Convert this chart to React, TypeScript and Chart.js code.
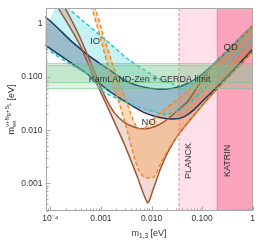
import React, { useEffect, useRef } from 'react';
import { Chart, registerables } from 'chart.js';
Chart.register(...registerables);

// ---------- axes ----------
const xRange = [8e-5, 1];
const yRange = [3e-4, 2];
const xTickValues = [1e-4, 1e-3, 1e-2, 1e-1, 1];
const xTickLabels = ['10⁻⁴', '0.001', '0.010', '0.100', '1'];
const yTickValues = [1e-3, 1e-2, 1e-1, 1];
const yTickLabels = ['0.001', '0.010', '0.100', '1'];

// ---------- bounds ----------
const planckBound = 0.035;
const katrinBound = 0.2;
const kamlandBand = [0.061, 0.165];
const gerdaBand = [0.079, 0.18];

// ---------- IO, dashed (cyan) ----------
const ioDashUpperM = [1.53e-4, 2.2e-4, 4.7e-4, 9.3e-4, 1.82e-3, 3.57e-3, 7.0e-3, 0.0138, 0.027, 0.0424, 0.0665, 0.104, 0.187, 0.32, 0.63, 1.13];
const ioDashUpperMee = [3.39, 2.05, 1.09, 0.63, 0.364, 0.211, 0.138, 0.0947, 0.0736, 0.0676, 0.0767, 0.107, 0.194, 0.32, 0.60, 1.04];
const ioDashLowerM = [6e-5, 8e-5, 2.4e-4, 5.9e-4, 1.06e-3, 3.27e-3, 8.8e-3, 0.0198, 0.034, 0.0665, 0.104, 0.187, 0.32, 0.63, 1.13];
const ioDashLowerMee = [0.40, 0.349, 0.178, 0.107, 0.0548, 0.033, 0.0236, 0.020, 0.0236, 0.0375, 0.0548, 0.107, 0.178, 0.335, 0.578];

// ---------- IO, solid (navy) ----------
const ioSolidUpperM = [6.25e-5, 8.55e-5, 1.40e-4, 2.4e-4, 5.9e-4, 1.45e-3, 3.27e-3, 7.0e-3, 0.0138, 0.027, 0.053, 0.104, 0.187, 0.32, 0.63, 1.13];
const ioSolidUpperMee = [1.59, 1.29, 0.845, 0.51, 0.249, 0.138, 0.0834, 0.0648, 0.0596, 0.0621, 0.0767, 0.117, 0.194, 0.32, 0.60, 1.04];
const ioSolidLowerM = [6.25e-5, 8.55e-5, 2.4e-4, 5.9e-4, 1.45e-3, 3.27e-3, 7.0e-3, 0.0138, 0.027, 0.0424, 0.0665, 0.104, 0.205, 0.50, 1.13];
const ioSolidLowerMee = [0.45, 0.38, 0.194, 0.107, 0.0548, 0.033, 0.0217, 0.0176, 0.0162, 0.0176, 0.0236, 0.036, 0.0676, 0.164, 0.38];

// ---------- NO, solid (brown) ----------
const noSolidUpperM = [1.53e-4, 1.92e-4, 3.8e-4, 7.4e-4, 1.16e-3, 1.82e-3, 2.86e-3, 4.48e-3, 7.0e-3, 0.011, 0.0173, 0.027, 0.053, 0.104, 0.187, 0.32, 1.13];
const noSolidUpperMee = [2.75, 2.05, 0.578, 0.127, 0.0463, 0.0217, 0.0142, 0.0115, 0.0106, 0.0115, 0.0142, 0.020, 0.036, 0.0947, 0.194, 0.32, 1.04];
const noSolidLowerM = [1.07e-4, 1.53e-4, 3.8e-4, 7.4e-4, 1.45e-3, 2.86e-3, 5.13e-3, 8.4e-3, 0.011, 0.0151, 0.0216, 0.034, 0.083, 0.205, 0.50, 1.13];
const noSolidLowerMee = [2.75, 1.80, 0.41, 0.0947, 0.0236, 5.64e-3, 1.4e-3, 4.3e-4, 8.1e-4, 1.89e-3, 4.03e-3, 8.24e-3, 0.0236, 0.0621, 0.150, 0.349];

// ---------- NO, dashed (orange) ----------
const noDashUpperM = [6.2e-4, 7.6e-4, 1.18e-3, 1.82e-3, 2.49e-3, 3.27e-3, 3.91e-3, 4.69e-3, 5.61e-3, 7.0e-3, 8.8e-3, 0.0138, 0.027, 0.053, 0.104, 0.187, 1.13];
const noDashUpperMee = [2.75, 2.05, 0.51, 0.144, 0.0621, 0.033, 0.020, 0.0131, 0.0106, 0.0106, 0.0131, 0.020, 0.033, 0.0548, 0.107, 0.194, 1.04];
const noDashLowerM = [5.2e-4, 6.5e-4, 1.0e-3, 1.5e-3, 2.28e-3, 3.27e-3, 4.48e-3, 5.61e-3, 7.35e-3, 0.011, 0.0151, 0.0216, 0.034, 0.083, 0.205, 0.50, 1.13];
const noDashLowerMee = [2.75, 2.05, 0.51, 0.117, 0.033, 0.0102, 3.27e-3, 1.73e-3, 1.29e-3, 1.29e-3, 2.33e-3, 4.38e-3, 8.24e-3, 0.0236, 0.0621, 0.150, 0.349];

// ---------- annotations ----------
const labelTexts = ['IO', 'NO', 'QD'];
const labelM = [7.7e-4, 8.8e-3, 0.367];
const labelMee = [0.47, 0.0142, 0.364];
const vLabelTexts = ['PLANCK', 'KATRIN'];
const vLabelM = [0.053, 0.314];
const vLabelMee = [2.64e-3, 2.64e-3];
const bandLabel = 'KamLAND-Zen + GERDA limit';
const bandLabelM = 9.2e-3;
const bandLabelMee = 0.0908;

const FONT = '"Liberation Sans", Arial, sans-serif';
const TEXT = '#333';

const cyanLine = 'rgb(45,195,205)';
const cyanFill = 'rgba(140,230,235,0.5)';
const navyLine = 'rgb(25,55,95)';
const navyFill = 'rgba(70,80,115,0.33)';
const brownLine = 'rgb(155,88,55)';
const brownFill = 'rgba(190,110,80,0.25)';
const orangeLine = 'rgb(247,135,35)';
const orangeFill = 'rgba(245,150,60,0.33)';

const pts = (m: number[], v: number[]) => m.map((x, i) => ({ x, y: v[i] }));

function region(um: number[], uv: number[], lm: number[], lv: number[], color: string, order: number) {
  return {
    data: [...pts(um, uv), ...pts(lm, lv).reverse()],
    showLine: true,
    fill: 'shape',
    backgroundColor: color,
    borderColor: 'rgba(0,0,0,0)',
    borderWidth: 0,
    pointRadius: 0,
    tension: 0.2,
    clip: 0,
    order,
  };
}
function curve(m: number[], v: number[], color: string, dash: number[], order: number) {
  return {
    data: pts(m, v),
    showLine: true,
    fill: false,
    borderColor: color,
    borderWidth: 1.5,
    borderDash: dash,
    pointRadius: 0,
    tension: 0.2,
    clip: 0,
    order,
  };
}

type Seg = { t: string; s: number; dy: number; adv?: boolean };
function drawRich(ctx: CanvasRenderingContext2D, segs: Seg[], cx: number, baseY: number) {
  const w: number[] = [];
  for (const sg of segs) {
    ctx.font = `${sg.s}px ${FONT}`;
    w.push(ctx.measureText(sg.t).width);
  }
  let x = 0, maxExtra = 0;
  segs.forEach((sg, i) => {
    if (sg.adv === false) { maxExtra = Math.max(maxExtra, w[i]); }
    else { x += Math.max(w[i], maxExtra); maxExtra = 0; }
  });
  const total = x + maxExtra;
  x = cx - total / 2;
  let pending = 0;
  segs.forEach((sg, i) => {
    ctx.font = `${sg.s}px ${FONT}`;
    ctx.fillText(sg.t, x, baseY + sg.dy);
    if (sg.adv === false) { pending = Math.max(pending, w[i]); }
    else { x += Math.max(w[i], pending); pending = 0; }
  });
}

const decor = {
  id: 'decor',
  beforeDatasetsDraw(chart: any) {
    const { ctx, chartArea: a, scales } = chart;
    const xs = scales.x;
    ctx.save();
    ctx.beginPath();
    ctx.rect(a.left, a.top, a.width, a.height);
    ctx.clip();
    const xp = xs.getPixelForValue(planckBound);
    const xk = xs.getPixelForValue(katrinBound);
    ctx.fillStyle = 'rgb(255,223,233)';
    ctx.fillRect(xp, a.top, a.right - xp, a.height);
    ctx.fillStyle = 'rgb(249,163,188)';
    ctx.fillRect(xk, a.top, a.right - xk, a.height);
    ctx.lineWidth = 1.2;
    ctx.strokeStyle = 'rgb(245,150,180)';
    ctx.setLineDash([3, 2]);
    ctx.beginPath(); ctx.moveTo(xp, a.top); ctx.lineTo(xp, a.bottom); ctx.stroke();
    ctx.setLineDash([]);
    ctx.strokeStyle = 'rgb(240,140,170)';
    ctx.beginPath(); ctx.moveTo(xk, a.top); ctx.lineTo(xk, a.bottom); ctx.stroke();
    ctx.restore();
  },
  afterDatasetsDraw(chart: any) {
    const { ctx, chartArea: a, scales } = chart;
    const xs = scales.x, ys = scales.y;
    ctx.save();
    ctx.beginPath();
    ctx.rect(a.left, a.top, a.width, a.height);
    ctx.clip();
    for (const b of [kamlandBand, gerdaBand]) {
      const y1 = ys.getPixelForValue(b[1]);
      const y0 = ys.getPixelForValue(b[0]);
      ctx.fillStyle = 'rgba(120,200,140,0.25)';
      ctx.fillRect(a.left, y1, a.width, y0 - y1);
      ctx.strokeStyle = 'rgba(110,195,130,0.55)';
      ctx.lineWidth = 1;
      ctx.beginPath();
      ctx.moveTo(a.left, y1); ctx.lineTo(a.right, y1);
      ctx.moveTo(a.left, y0); ctx.lineTo(a.right, y0);
      ctx.stroke();
    }
    ctx.fillStyle = TEXT;
    ctx.textAlign = 'center';
    ctx.textBaseline = 'middle';
    ctx.font = `9.5px ${FONT}`;
    labelTexts.forEach((t, i) => {
      ctx.fillText(t, xs.getPixelForValue(labelM[i]), ys.getPixelForValue(labelMee[i]));
    });
    ctx.font = `9px ${FONT}`;
    ctx.fillText(bandLabel, xs.getPixelForValue(bandLabelM), ys.getPixelForValue(bandLabelMee));
    vLabelTexts.forEach((t, i) => {
      ctx.save();
      ctx.translate(xs.getPixelForValue(vLabelM[i]), ys.getPixelForValue(vLabelMee[i]));
      ctx.rotate(-Math.PI / 2);
      ctx.fillText(t, 0, 0);
      ctx.restore();
    });
    ctx.restore();
  },
  afterDraw(chart: any) {
    const { ctx, chartArea: a, scales } = chart;
    const xs = scales.x, ys = scales.y;
    ctx.save();
    ctx.strokeStyle = '#a8a8a8';
    ctx.lineWidth = 1;
    const L = Math.round(a.left) + 0.5, R = Math.round(a.right) - 0.5;
    const T = Math.round(a.top) + 0.5, B = Math.round(a.bottom) - 0.5;
    ctx.strokeRect(L, T, R - L, B - T);
    ctx.beginPath();
    for (let e = -5; e <= 0; e++) {
      for (let k = 1; k <= 9; k++) {
        const v = k * Math.pow(10, e);
        const len = k === 1 ? 4 : 2;
        if (v >= xRange[0] && v <= xRange[1]) {
          const px = Math.round(xs.getPixelForValue(v)) + 0.5;
          ctx.moveTo(px, B); ctx.lineTo(px, B - len);
        }
        if (v >= yRange[0] && v <= yRange[1]) {
          const py = Math.round(ys.getPixelForValue(v)) + 0.5;
          ctx.moveTo(L, py); ctx.lineTo(L + len, py);
        }
      }
    }
    ctx.stroke();
    ctx.fillStyle = TEXT;
    ctx.textAlign = 'left';
    ctx.textBaseline = 'alphabetic';
    drawRich(ctx, [
      { t: 'm', s: 9, dy: 0 },
      { t: '1,3', s: 6.5, dy: 2 },
      { t: ' [eV]', s: 9, dy: 0 },
    ], (a.left + a.right) / 2, 236);
    ctx.save();
    ctx.translate(13.5, (a.top + a.bottom) / 2);
    ctx.rotate(-Math.PI / 2);
    drawRich(ctx, [
      { t: 'm', s: 9, dy: 0 },
      { t: 'ee', s: 6, dy: 2, adv: false },
      { t: 'ν+N', s: 6, dy: -4.5 },
      { t: 'R', s: 4.5, dy: -3 },
      { t: '+S', s: 6, dy: -4.5 },
      { t: 'L', s: 4.5, dy: -3 },
      { t: ' [eV]', s: 9, dy: 0 },
    ], 0, 0);
    ctx.restore();
    ctx.restore();
  },
};

export default function App() {
  const ref = useRef<HTMLCanvasElement>(null);
  useEffect(() => {
    document.body.style.margin = '0';
    const datasets: any[] = [
      region(ioDashUpperM, ioDashUpperMee, ioDashLowerM, ioDashLowerMee, cyanFill, 20),
      region(ioSolidUpperM, ioSolidUpperMee, ioSolidLowerM, ioSolidLowerMee, navyFill, 19),
      region(noSolidUpperM, noSolidUpperMee, noSolidLowerM, noSolidLowerMee, brownFill, 16),
      region(noDashUpperM, noDashUpperMee, noDashLowerM, noDashLowerMee, orangeFill, 15),
      curve(ioSolidUpperM, ioSolidUpperMee, navyLine, [], 10),
      curve(ioSolidLowerM, ioSolidLowerMee, navyLine, [], 9),
      curve(noSolidUpperM, noSolidUpperMee, brownLine, [], 8),
      curve(noSolidLowerM, noSolidLowerMee, brownLine, [], 7),
      curve(noDashUpperM, noDashUpperMee, orangeLine, [4, 2.5], 6),
      curve(noDashLowerM, noDashLowerMee, orangeLine, [4, 2.5], 5),
      curve(ioDashUpperM, ioDashUpperMee, cyanLine, [4, 2.5], 2),
      curve(ioDashLowerM, ioDashLowerMee, cyanLine, [4, 2.5], 1),
    ];
    const tickFont = { family: FONT, size: 8.5 };
    const chart = new Chart(ref.current!, {
      type: 'scatter',
      data: { datasets },
      plugins: [decor],
      options: {
        animation: false,
        responsive: false,
        devicePixelRatio: 1,
        layout: { padding: { top: 2, right: 2.5, left: 0, bottom: 0 } },
        plugins: { legend: { display: false }, tooltip: { enabled: false } },
        scales: {
          x: {
            type: 'logarithmic',
            min: xRange[0],
            max: xRange[1],
            grid: { display: false, drawTicks: false },
            border: { display: false },
            ticks: {
              autoSkip: false,
              maxRotation: 0,
              padding: 3,
              color: TEXT,
              font: tickFont,
              callback: (v: any) => { const i = xTickValues.indexOf(Number(v)); return i >= 0 ? xTickLabels[i] : ''; },
            },
            afterBuildTicks: (s: any) => { s.ticks = xTickValues.map((v) => ({ value: v })); },
            afterFit: (s: any) => { s.height = 34; },
          },
          y: {
            type: 'logarithmic',
            min: yRange[0],
            max: yRange[1],
            grid: { display: false, drawTicks: false },
            border: { display: false },
            ticks: {
              autoSkip: false,
              padding: 3,
              color: TEXT,
              font: tickFont,
              callback: (v: any) => { const i = yTickValues.indexOf(Number(v)); return i >= 0 ? yTickLabels[i] : ''; },
            },
            afterBuildTicks: (s: any) => { s.ticks = yTickValues.map((v) => ({ value: v })); },
            afterFit: (s: any) => { s.width = 45.5; },
          },
        },
      } as any,
    });
    return () => chart.destroy();
  }, []);
  return <canvas ref={ref} width={258} height={245} style={{ display: 'block', width: 258, height: 245 }} />;
}
